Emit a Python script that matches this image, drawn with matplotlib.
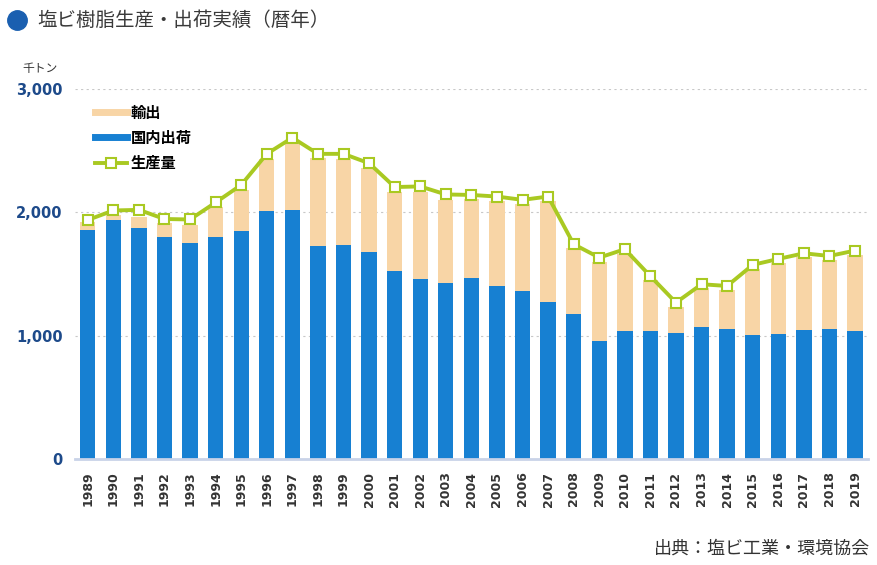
import numpy as np
import matplotlib.pyplot as plt
from matplotlib.lines import Line2D

plt.rcParams['font.family'] = ['Noto Sans CJK JP', 'DejaVu Sans']

# 暦年
years = list(range(1989, 2020))
# 生産量 (千トン)
production = [1938, 2015, 2020, 1946, 1942, 2080, 2222, 2474, 2605, 2474, 2474,
              2398, 2205, 2210, 2145, 2141, 2128, 2101, 2128, 1741, 1633, 1701,
              1482, 1268, 1417, 1403, 1574, 1622, 1668, 1646, 1690]
# 国内出荷
domestic = [1860, 1938, 1876, 1800, 1753, 1800, 1845, 2010, 2018, 1724, 1736,
            1679, 1525, 1458, 1430, 1471, 1406, 1363, 1276, 1179, 957, 1036,
            1036, 1025, 1068, 1057, 1003, 1016, 1046, 1057, 1036]
# 輸出
export = [65, 40, 84, 111, 144, 241, 336, 421, 543, 715, 695,
          678, 643, 710, 671, 634, 684, 702, 814, 531, 643, 629,
          414, 210, 317, 313, 537, 574, 589, 558, 619]

blue = '#1780d2'
beige = '#f8d5a6'
green = '#a9c922'
navy = '#1d4a8a'

fig = plt.figure(figsize=(8.77, 5.65), dpi=100)
ax = fig.add_axes([0.0855, 0.1876, 0.904, 0.6549])

x = np.arange(len(years))
ax.bar(x, domestic, width=0.6, color=blue, zorder=2)
ax.bar(x, export, width=0.6, bottom=domestic, color=beige, zorder=2)
ax.plot(x, production, color=green, lw=2.8, marker='s', ms=6.5,
        mfc='white', mec=green, mew=1.5, zorder=3)

ax.set_xlim(-0.5, len(years) - 0.5)
ax.set_ylim(0, 3000)
ax.set_yticks([0, 1000, 2000, 3000])
ax.set_yticklabels(['0', '1,000', '2,000', '3,000'], color=navy,
                   fontweight='bold', fontsize=10.5, family='DejaVu Sans')
ax.set_xticks(x)
ax.set_xticklabels([str(y) for y in years], rotation=90, fontweight='bold',
                   fontsize=9, color='#333333', family='DejaVu Sans')
ax.tick_params(axis='both', length=0)
ax.tick_params(axis='y', pad=9)
ax.tick_params(axis='x', pad=9)

ax.yaxis.grid(True, linestyle=(0, (2, 3)), color='#c8c8c8', lw=0.8, zorder=0)
for s in ['top', 'right', 'left']:
    ax.spines[s].set_visible(False)
ax.spines['bottom'].set_color('#c9d3e8')
ax.spines['bottom'].set_linewidth(2)

handles = [Line2D([], [], color=beige, lw=5),
           Line2D([], [], color=blue, lw=5),
           Line2D([], [], color=green, lw=2.8, marker='s', ms=6.5,
                  mfc='white', mec=green, mew=1.5)]
ax.legend(handles, ['輸出', '国内出荷', '生産量'], loc='upper left',
          bbox_to_anchor=(0.008, 0.995), frameon=False, handlelength=2.1,
          handletextpad=0.25, labelspacing=0.6,
          prop={'weight': 'bold', 'size': 11})

fig.text(0.026, 1 - 68 / 565, '千トン', fontsize=8.5, color='#333333',
         va='center')

# タイトル
fig.add_artist(Line2D([17 / 877], [1 - 20 / 565], marker='o', ms=14,
                      color='#1a5fb0', transform=fig.transFigure))
fig.text(37 / 877, 1 - 20 / 565, '塩ビ樹脂生産・出荷実績（暦年）', fontsize=14,
         color='#3a3a3a', va='center')
fig.text(0.992, 1 - 549 / 565, '出典：塩ビ工業・環境協会', fontsize=13,
         color='#333333', ha='right', va='center')

fig.savefig('out.png', dpi=100)
